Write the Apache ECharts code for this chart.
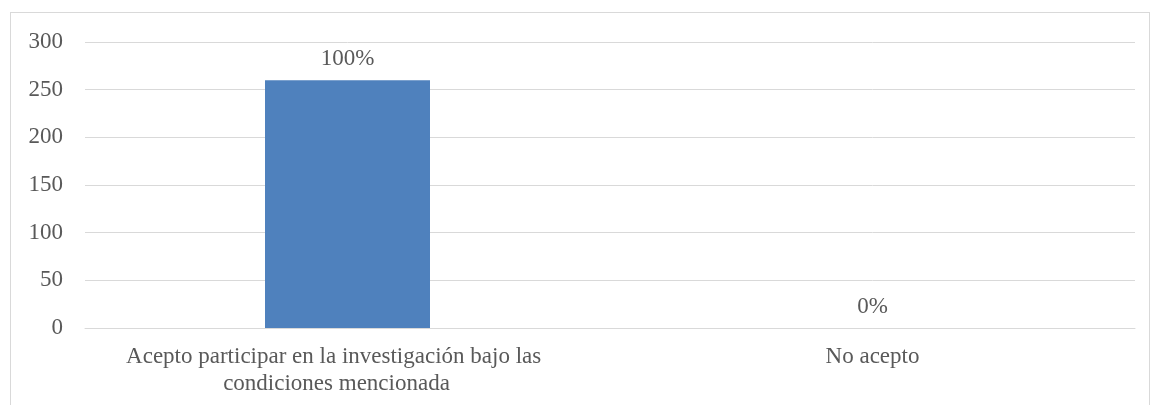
<!DOCTYPE html>
<html>
<head>
<meta charset="utf-8">
<script src="https://cdn.jsdelivr.net/npm/echarts@6/dist/echarts.min.js"></script>
<style>
  html, body { margin: 0; padding: 0; background: #fff; }
  #frame { position: absolute; left: 10px; top: 12px; width: 1140px; height: 420px; border: 1px solid #d9d9d9; box-sizing: border-box; }
  #chart { position: absolute; left: 0; top: 0; width: 1151px; height: 405px; }
</style>
</head>
<body>
<div id="frame"></div>
<div id="chart"></div>
<script>
var categories = ['Acepto participar en la investigación bajo las condiciones mencionada', 'No acepto'];
var values = [260, 0];
var percentLabels = ['100%', '0%'];
var yTicks = {min: 0, max: 300, interval: 50};

var chart = echarts.init(document.getElementById('chart'));
var font = '"Liberation Serif", "Times New Roman", serif';

// first label sits a little left of its bar in the original
var categoryItems = categories.map(function (name, i) {
    return i === 0 ? { value: name, textStyle: { padding: [0, 22, 0, 0] } } : name;
});

var option = {
    animation: false,
    grid: {
        left: 85,
        right: 16,
        top: 42,
        bottom: 77
    },
    xAxis: {
        type: 'category',
        data: categoryItems,
        axisLine: { lineStyle: { color: '#d9d9d9', width: 1 } },
        axisTick: { show: false },
        axisLabel: {
            color: '#595959',
            fontFamily: font,
            fontSize: 23,
            lineHeight: 27,
            margin: 15,
            width: 460,
            overflow: 'break',
            interval: 0
        }
    },
    yAxis: {
        type: 'value',
        min: yTicks.min,
        max: yTicks.max,
        interval: yTicks.interval,
        axisLine: { show: false },
        axisTick: { show: false },
        splitLine: { lineStyle: { color: '#d9d9d9', width: 1 } },
        axisLabel: {
            color: '#595959',
            fontFamily: font,
            fontSize: 23,
            margin: 22
        }
    },
    series: [{
        type: 'bar',
        data: values,
        barWidth: 165,
        itemStyle: { color: '#4f81bd' },
        label: {
            show: true,
            position: 'top',
            distance: 10,
            color: '#595959',
            fontFamily: font,
            fontSize: 23,
            formatter: function (p) { return percentLabels[p.dataIndex]; }
        }
    }]
};

chart.setOption(option);
</script>
</body>
</html>
